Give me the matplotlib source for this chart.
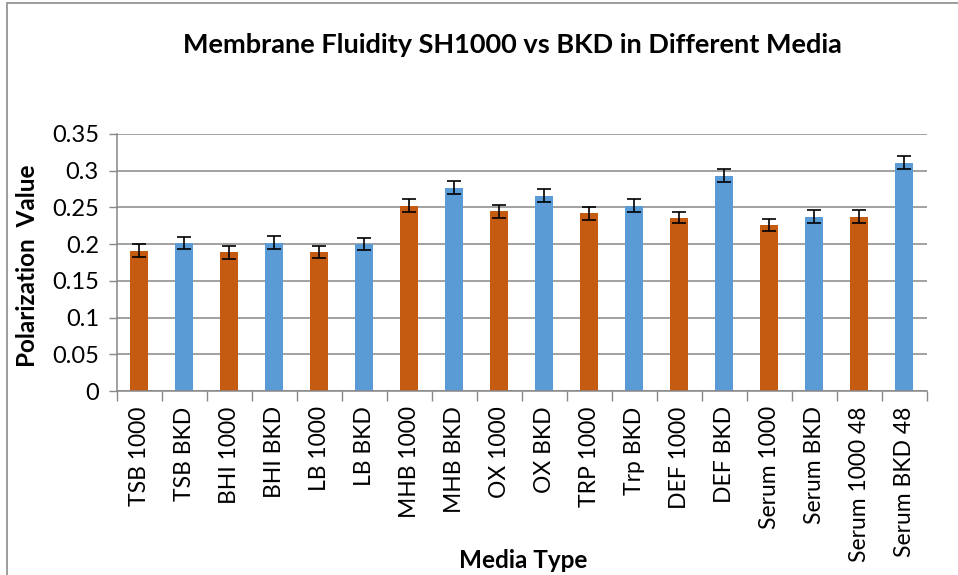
import numpy as np
import matplotlib.pyplot as plt
from matplotlib.patches import Rectangle

plt.rcParams['font.family'] = ['Lato', 'DejaVu Sans']

# Data
media = ['TSB 1000', 'TSB BKD', 'BHI 1000', 'BHI BKD', 'LB 1000', 'LB BKD',
         'MHB 1000', 'MHB BKD', 'OX 1000', 'OX BKD', 'TRP 1000', 'Trp BKD',
         'DEF 1000', 'DEF BKD', 'Serum 1000', 'Serum BKD', 'Serum 1000 48',
         'Serum BKD 48']
polarization = [0.191, 0.202, 0.189, 0.202, 0.189, 0.200,
                0.252, 0.277, 0.245, 0.266, 0.242, 0.252,
                0.236, 0.293, 0.226, 0.237, 0.237, 0.311]
errors = [0.0086, 0.0082, 0.0088, 0.0088, 0.0079, 0.0086,
          0.0088, 0.0088, 0.0088, 0.0086, 0.0086, 0.0088,
          0.0079, 0.0088, 0.0088, 0.0088, 0.0088, 0.0086]
y_ticks = [0, 0.05, 0.1, 0.15, 0.2, 0.25, 0.3, 0.35]
y_ticklabels = ['0', '0.05', '0.1', '0.15', '0.2', '0.25', '0.3', '0.35']

orange = '#C55A11'
blue = '#5B9BD5'
grid_col = '#878787'

fig = plt.figure(figsize=(9.58, 5.75), dpi=100)
ax = fig.add_axes([0.1221, 0.32, 0.8455, 0.447])

x = np.arange(len(media))
colors = [orange if i % 2 == 0 else blue for i in range(len(media))]
ax.bar(x, polarization, width=0.4, color=colors, zorder=2)
ax.errorbar(x, polarization, yerr=errors, fmt='none', ecolor='black',
            elinewidth=1.2, capsize=5, capthick=1.2, zorder=3)

ax.set_xlim(-0.5, len(media) - 0.5)
ax.set_ylim(0, 0.35)
ax.set_yticks(y_ticks)
ax.set_yticklabels(y_ticklabels, fontsize=17)
ax.yaxis.grid(True, color=grid_col, linewidth=1.1, zorder=0)
ax.set_axisbelow(True)

# category labels at centers, tick marks at boundaries
ax.set_xticks(x)
ax.set_xticklabels(media, rotation=90, fontsize=16.5)
ax.tick_params(axis='x', length=0, pad=11)
ax.set_xticks(np.arange(-0.5, len(media)), minor=True)
ax.tick_params(axis='x', which='minor', length=7, width=1, color=grid_col)
ax.tick_params(axis='y', length=6, width=1, color=grid_col, pad=7)

for s in ['top', 'right']:
    ax.spines[s].set_visible(False)
for s in ['left', 'bottom']:
    ax.spines[s].set_color(grid_col)
    ax.spines[s].set_linewidth(1.1)

fig.text(0.029, 0.537, 'Polarization  Value', fontsize=17.5, fontweight='bold',
         rotation=90, ha='center', va='center')
fig.text(0.546, 0.026, 'Media Type', fontsize=17.5, fontweight='bold',
         ha='center', va='center')
fig.text(0.535, 0.922, 'Membrane Fluidity SH1000 vs BKD in Different Media',
         fontsize=19.5, fontweight='bold', ha='center', va='center')

# chart area border (left and top edges visible)
fig.patches.append(Rectangle((0.007, -0.05), 1.1, 1.044, transform=fig.transFigure,
                             fill=False, edgecolor='#8c8c8c', linewidth=1.2))

fig.savefig('out.png', dpi=100)
